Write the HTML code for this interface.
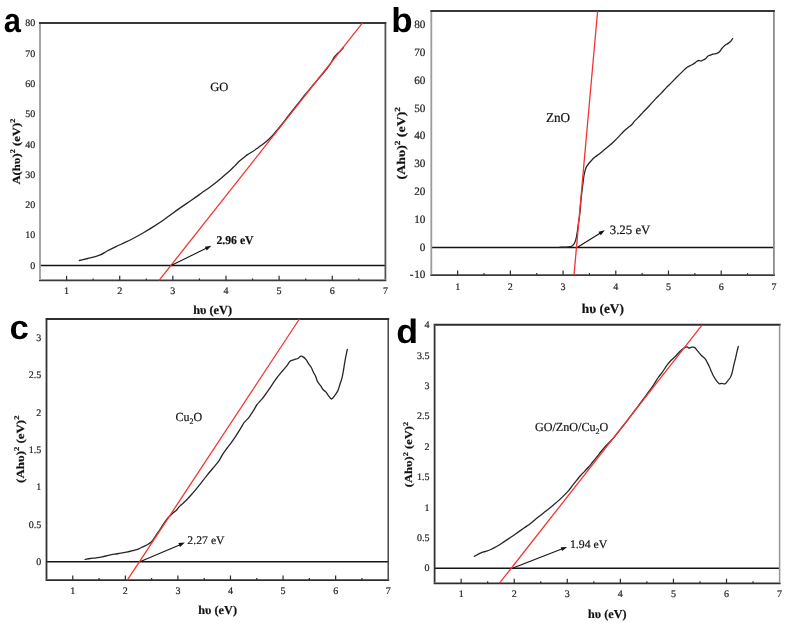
<!DOCTYPE html>
<html><head><meta charset="utf-8"><title>Tauc plots</title><style>
html,body{margin:0;padding:0;background:#fff;}
body{width:790px;height:626px;overflow:hidden;}
svg{display:block;will-change:transform;}
text{font-family:"Liberation Serif",serif;text-rendering:geometricPrecision;stroke:#222;stroke-width:0.2px;paint-order:stroke;}
.pl{stroke:none;}
.pl{font-family:"Liberation Sans",sans-serif;font-weight:bold;}
</style></head><body>
<svg width="790" height="626" viewBox="0 0 790 626">
<rect width="790" height="626" fill="#fff"/>
<g id="pa">
<line x1="40" y1="265.46" x2="385.4" y2="265.46" stroke="#141414" stroke-width="1.55"/>
<line x1="66.57" y1="280.4" x2="66.57" y2="275.8" stroke="#2a2a2a" stroke-width="1.2"/>
<line x1="93.14" y1="280.4" x2="93.14" y2="278.4" stroke="#2a2a2a" stroke-width="1.2"/>
<line x1="119.71" y1="280.4" x2="119.71" y2="275.8" stroke="#2a2a2a" stroke-width="1.2"/>
<line x1="146.28" y1="280.4" x2="146.28" y2="278.4" stroke="#2a2a2a" stroke-width="1.2"/>
<line x1="172.85" y1="280.4" x2="172.85" y2="275.8" stroke="#2a2a2a" stroke-width="1.2"/>
<line x1="199.42" y1="280.4" x2="199.42" y2="278.4" stroke="#2a2a2a" stroke-width="1.2"/>
<line x1="225.98" y1="280.4" x2="225.98" y2="275.8" stroke="#2a2a2a" stroke-width="1.2"/>
<line x1="252.55" y1="280.4" x2="252.55" y2="278.4" stroke="#2a2a2a" stroke-width="1.2"/>
<line x1="279.12" y1="280.4" x2="279.12" y2="275.8" stroke="#2a2a2a" stroke-width="1.2"/>
<line x1="305.69" y1="280.4" x2="305.69" y2="278.4" stroke="#2a2a2a" stroke-width="1.2"/>
<line x1="332.26" y1="280.4" x2="332.26" y2="275.8" stroke="#2a2a2a" stroke-width="1.2"/>
<line x1="358.83" y1="280.4" x2="358.83" y2="278.4" stroke="#2a2a2a" stroke-width="1.2"/>
<line x1="39" y1="23" x2="386.4" y2="23" stroke="#383838" stroke-width="2"/>
<line x1="39" y1="280.4" x2="386.4" y2="280.4" stroke="#3a3a3a" stroke-width="1.8"/>
<line x1="40" y1="24" x2="40" y2="279.5" stroke="#9c9c9c" stroke-width="1.8"/>
<line x1="385.4" y1="24" x2="385.4" y2="279.5" stroke="#555555" stroke-width="1.8"/>
<text x="66.57" y="293.9" font-size="10" text-anchor="middle" fill="#222">1</text>
<text x="119.71" y="293.9" font-size="10" text-anchor="middle" fill="#222">2</text>
<text x="172.85" y="293.9" font-size="10" text-anchor="middle" fill="#222">3</text>
<text x="225.98" y="293.9" font-size="10" text-anchor="middle" fill="#222">4</text>
<text x="279.12" y="293.9" font-size="10" text-anchor="middle" fill="#222">5</text>
<text x="332.26" y="293.9" font-size="10" text-anchor="middle" fill="#222">6</text>
<text x="385.4" y="293.9" font-size="10" text-anchor="middle" fill="#222">7</text>
<text x="35.3" y="268.66" font-size="10" text-anchor="end" fill="#222">0</text>
<text x="35.3" y="238.38" font-size="10" text-anchor="end" fill="#222">10</text>
<text x="35.3" y="208.09" font-size="10" text-anchor="end" fill="#222">20</text>
<text x="35.3" y="177.81" font-size="10" text-anchor="end" fill="#222">30</text>
<text x="35.3" y="147.53" font-size="10" text-anchor="end" fill="#222">40</text>
<text x="35.3" y="117.25" font-size="10" text-anchor="end" fill="#222">50</text>
<text x="35.3" y="86.96" font-size="10" text-anchor="end" fill="#222">60</text>
<text x="35.3" y="56.68" font-size="10" text-anchor="end" fill="#222">70</text>
<text x="35.3" y="26.4" font-size="10" text-anchor="end" fill="#222">80</text>
<path d="M79.40,260.50 C82.17,259.83 85.00,259.16 87.70,258.50 C90.29,257.86 92.97,257.28 95.30,256.60 C97.32,256.01 99.07,255.55 100.90,254.70 C102.84,253.80 104.47,252.47 106.60,251.30 C109.22,249.86 112.42,248.28 115.50,246.80 C118.74,245.24 122.36,243.76 125.60,242.20 C128.68,240.72 131.55,239.27 134.50,237.70 C137.48,236.11 140.35,234.47 143.40,232.70 C146.67,230.79 150.15,228.70 153.50,226.60 C156.89,224.47 160.48,222.18 163.60,220.00 C166.40,218.05 168.66,216.20 171.40,214.20 C174.40,212.01 177.62,209.70 180.90,207.40 C184.37,204.97 188.22,202.43 191.70,200.00 C195.00,197.70 198.11,195.47 201.30,193.20 C204.48,190.94 207.66,188.76 210.80,186.40 C214.00,184.00 217.16,181.48 220.30,178.90 C223.49,176.28 227.15,173.25 229.80,170.80 C231.84,168.92 233.30,167.30 235.00,165.60 C236.63,163.97 238.16,162.26 239.80,160.80 C241.36,159.41 243.21,158.13 244.60,157.00 C245.69,156.12 246.38,155.40 247.50,154.60 C248.87,153.63 250.71,152.72 252.30,151.70 C253.92,150.66 255.52,149.52 257.10,148.40 C258.68,147.28 260.24,146.18 261.80,145.00 C263.40,143.79 265.02,142.54 266.60,141.20 C268.23,139.81 270.03,138.20 271.40,136.80 C272.52,135.65 273.13,134.87 274.30,133.50 C276.15,131.33 278.97,127.97 281.34,125.00 C283.88,121.82 286.44,118.33 289.04,115.00 C291.64,111.66 294.30,108.33 296.94,105.00 C299.57,101.67 302.15,98.32 304.83,95.00 C307.55,91.65 310.34,88.33 313.13,85.00 C315.94,81.66 319.09,78.05 321.63,75.00 C323.74,72.47 325.63,70.27 327.36,68.00 C328.92,65.95 330.38,63.94 331.60,62.00 C332.67,60.29 333.34,58.40 334.35,57.00 C335.20,55.81 336.15,54.98 337.12,54.00 C338.12,52.98 339.27,52.04 340.29,51.00 C341.30,49.97 342.24,48.87 343.21,47.80" fill="none" stroke="#262626" stroke-width="1.3" stroke-linejoin="round" stroke-linecap="round"/>
<line x1="159.1" y1="280.4" x2="362.5" y2="22.9" stroke="#f43434" stroke-width="1.3"/>
<line x1="171.6" y1="265.2" x2="206.73" y2="248.08" stroke="#151515" stroke-width="1.1"/>
<polygon points="211.4,245.8 206.75,250.4 204.91,246.63" fill="#111"/>
</g>
<g id="pb">
<line x1="431.3" y1="247.51" x2="773.9" y2="247.51" stroke="#141414" stroke-width="1.55"/>
<line x1="457.65" y1="275.1" x2="457.65" y2="270.5" stroke="#2a2a2a" stroke-width="1.2"/>
<line x1="484.01" y1="275.1" x2="484.01" y2="273.1" stroke="#2a2a2a" stroke-width="1.2"/>
<line x1="510.36" y1="275.1" x2="510.36" y2="270.5" stroke="#2a2a2a" stroke-width="1.2"/>
<line x1="536.72" y1="275.1" x2="536.72" y2="273.1" stroke="#2a2a2a" stroke-width="1.2"/>
<line x1="563.07" y1="275.1" x2="563.07" y2="270.5" stroke="#2a2a2a" stroke-width="1.2"/>
<line x1="589.42" y1="275.1" x2="589.42" y2="273.1" stroke="#2a2a2a" stroke-width="1.2"/>
<line x1="615.78" y1="275.1" x2="615.78" y2="270.5" stroke="#2a2a2a" stroke-width="1.2"/>
<line x1="642.13" y1="275.1" x2="642.13" y2="273.1" stroke="#2a2a2a" stroke-width="1.2"/>
<line x1="668.48" y1="275.1" x2="668.48" y2="270.5" stroke="#2a2a2a" stroke-width="1.2"/>
<line x1="694.84" y1="275.1" x2="694.84" y2="273.1" stroke="#2a2a2a" stroke-width="1.2"/>
<line x1="721.19" y1="275.1" x2="721.19" y2="270.5" stroke="#2a2a2a" stroke-width="1.2"/>
<line x1="747.55" y1="275.1" x2="747.55" y2="273.1" stroke="#2a2a2a" stroke-width="1.2"/>
<line x1="430.3" y1="11.1" x2="774.9" y2="11.1" stroke="#383838" stroke-width="2"/>
<line x1="430.3" y1="275.1" x2="774.9" y2="275.1" stroke="#3a3a3a" stroke-width="1.8"/>
<line x1="431.3" y1="12.1" x2="431.3" y2="274.2" stroke="#9c9c9c" stroke-width="1.8"/>
<line x1="773.9" y1="12.1" x2="773.9" y2="274.2" stroke="#8c8c8c" stroke-width="1.8"/>
<text x="457.65" y="289.9" font-size="10" text-anchor="middle" fill="#222">1</text>
<text x="510.36" y="289.9" font-size="10" text-anchor="middle" fill="#222">2</text>
<text x="563.07" y="289.9" font-size="10" text-anchor="middle" fill="#222">3</text>
<text x="615.78" y="289.9" font-size="10" text-anchor="middle" fill="#222">4</text>
<text x="668.48" y="289.9" font-size="10" text-anchor="middle" fill="#222">5</text>
<text x="721.19" y="289.9" font-size="10" text-anchor="middle" fill="#222">6</text>
<text x="773.9" y="289.9" font-size="10" text-anchor="middle" fill="#222">7</text>
<text x="425.4" y="278.4" font-size="11.2" text-anchor="end" fill="#222">-<tspan dx='0.7'>10</tspan></text>
<text x="425.4" y="250.61" font-size="11.2" text-anchor="end" fill="#222">0</text>
<text x="425.4" y="222.82" font-size="11.2" text-anchor="end" fill="#222">10</text>
<text x="425.4" y="195.03" font-size="11.2" text-anchor="end" fill="#222">20</text>
<text x="425.4" y="167.24" font-size="11.2" text-anchor="end" fill="#222">30</text>
<text x="425.4" y="139.45" font-size="11.2" text-anchor="end" fill="#222">40</text>
<text x="425.4" y="111.66" font-size="11.2" text-anchor="end" fill="#222">50</text>
<text x="425.4" y="83.87" font-size="11.2" text-anchor="end" fill="#222">60</text>
<text x="425.4" y="56.08" font-size="11.2" text-anchor="end" fill="#222">70</text>
<text x="425.4" y="28.29" font-size="11.2" text-anchor="end" fill="#222">80</text>
<path d="M560.00,247.20 C562.00,247.17 564.20,247.20 566.00,247.10 C567.47,247.01 568.97,246.91 570.00,246.70 C570.66,246.56 571.07,246.49 571.60,246.20 C572.24,245.85 572.98,245.20 573.50,244.60 C574.00,244.03 574.33,243.47 574.70,242.70 C575.19,241.67 575.68,240.11 576.00,238.90 C576.29,237.82 576.38,236.99 576.60,235.80 C576.90,234.19 577.33,231.95 577.60,230.10 C577.86,228.36 577.94,226.98 578.20,225.00 C578.57,222.22 579.24,218.68 579.67,215.00 C580.21,210.51 580.57,204.49 581.02,200.00 C581.38,196.33 581.74,193.15 582.11,190.00 C582.44,187.18 582.80,184.53 583.13,182.00 C583.42,179.72 583.57,177.74 584.00,175.50 C584.47,173.05 585.01,169.96 585.90,167.90 C586.58,166.32 587.46,165.26 588.40,164.00 C589.38,162.69 590.57,161.38 591.70,160.20 C592.77,159.08 593.77,158.14 595.00,157.10 C596.42,155.91 598.22,154.75 599.80,153.50 C601.42,152.22 603.00,150.83 604.60,149.50 C606.20,148.17 607.81,146.87 609.40,145.50 C611.01,144.11 612.62,142.70 614.20,141.20 C615.82,139.67 617.42,138.05 619.00,136.40 C620.62,134.72 622.16,132.78 623.80,131.20 C625.33,129.73 627.07,128.35 628.50,127.20 C629.65,126.28 630.77,125.73 631.70,124.80 C632.63,123.87 633.15,122.69 634.10,121.60 C635.23,120.30 636.72,119.04 638.10,117.60 C639.64,115.99 641.62,113.74 642.90,112.40 C643.73,111.53 644.15,111.18 645.00,110.30 C646.38,108.87 648.55,106.50 650.30,104.60 C652.05,102.70 653.74,100.75 655.50,98.90 C657.24,97.08 659.05,95.42 660.80,93.60 C662.58,91.75 664.32,89.75 666.10,87.90 C667.85,86.08 669.65,84.37 671.40,82.60 C673.15,80.84 674.85,79.05 676.60,77.30 C678.35,75.55 680.12,73.79 681.90,72.10 C683.65,70.43 685.43,68.43 687.20,67.20 C688.66,66.19 690.24,65.76 691.60,65.00 C692.82,64.32 694.05,63.59 695.00,62.90 C695.75,62.36 696.23,61.71 696.90,61.30 C697.51,60.93 698.13,60.56 698.80,60.50 C699.52,60.43 700.36,61.09 701.10,61.00 C701.86,60.90 702.57,60.27 703.30,59.90 C704.03,59.53 704.81,59.33 705.50,58.80 C706.32,58.17 706.94,56.81 707.80,56.20 C708.56,55.67 709.46,55.53 710.30,55.20 C711.16,54.86 711.98,54.46 712.90,54.20 C713.90,53.92 715.06,53.95 716.10,53.60 C717.19,53.23 718.38,52.79 719.30,52.00 C720.31,51.14 720.86,49.60 721.80,48.50 C722.76,47.37 723.88,46.17 725.00,45.30 C726.02,44.51 727.22,44.10 728.20,43.40 C729.14,42.73 730.04,42.01 730.80,41.20 C731.54,40.41 732.07,39.47 732.70,38.60" fill="none" stroke="#262626" stroke-width="1.3" stroke-linejoin="round" stroke-linecap="round"/>
<line x1="574" y1="275.1" x2="597.6" y2="11.2" stroke="#f43434" stroke-width="1.3"/>
<line x1="577.9" y1="247" x2="600.48" y2="233.04" stroke="#151515" stroke-width="1.1"/>
<polygon points="604.9,230.3 600.73,235.35 598.52,231.78" fill="#111"/>
</g>
<g id="pc">
<line x1="46.5" y1="561.65" x2="388.2" y2="561.65" stroke="#141414" stroke-width="1.55"/>
<line x1="72.78" y1="580.1" x2="72.78" y2="575.5" stroke="#2a2a2a" stroke-width="1.2"/>
<line x1="99.07" y1="580.1" x2="99.07" y2="578.1" stroke="#2a2a2a" stroke-width="1.2"/>
<line x1="125.35" y1="580.1" x2="125.35" y2="575.5" stroke="#2a2a2a" stroke-width="1.2"/>
<line x1="151.64" y1="580.1" x2="151.64" y2="578.1" stroke="#2a2a2a" stroke-width="1.2"/>
<line x1="177.92" y1="580.1" x2="177.92" y2="575.5" stroke="#2a2a2a" stroke-width="1.2"/>
<line x1="204.21" y1="580.1" x2="204.21" y2="578.1" stroke="#2a2a2a" stroke-width="1.2"/>
<line x1="230.49" y1="580.1" x2="230.49" y2="575.5" stroke="#2a2a2a" stroke-width="1.2"/>
<line x1="256.78" y1="580.1" x2="256.78" y2="578.1" stroke="#2a2a2a" stroke-width="1.2"/>
<line x1="283.06" y1="580.1" x2="283.06" y2="575.5" stroke="#2a2a2a" stroke-width="1.2"/>
<line x1="309.35" y1="580.1" x2="309.35" y2="578.1" stroke="#2a2a2a" stroke-width="1.2"/>
<line x1="335.63" y1="580.1" x2="335.63" y2="575.5" stroke="#2a2a2a" stroke-width="1.2"/>
<line x1="361.92" y1="580.1" x2="361.92" y2="578.1" stroke="#2a2a2a" stroke-width="1.2"/>
<line x1="45.5" y1="318.95" x2="389.2" y2="318.95" stroke="#2e2e2e" stroke-width="2"/>
<line x1="45.5" y1="580.1" x2="389.2" y2="580.1" stroke="#2e2e2e" stroke-width="1.8"/>
<line x1="46.5" y1="319.95" x2="46.5" y2="579.2" stroke="#333333" stroke-width="1.8"/>
<line x1="388.2" y1="319.95" x2="388.2" y2="579.2" stroke="#3a3a3a" stroke-width="1.4"/>
<text x="72.78" y="593.8" font-size="10" text-anchor="middle" fill="#222">1</text>
<text x="125.35" y="593.8" font-size="10" text-anchor="middle" fill="#222">2</text>
<text x="177.92" y="593.8" font-size="10" text-anchor="middle" fill="#222">3</text>
<text x="230.49" y="593.8" font-size="10" text-anchor="middle" fill="#222">4</text>
<text x="283.06" y="593.8" font-size="10" text-anchor="middle" fill="#222">5</text>
<text x="335.63" y="593.8" font-size="10" text-anchor="middle" fill="#222">6</text>
<text x="388.2" y="593.8" font-size="10" text-anchor="middle" fill="#222">7</text>
<text x="41.2" y="564.85" font-size="10" text-anchor="end" fill="#222">0</text>
<text x="41.2" y="527.54" font-size="10" text-anchor="end" fill="#222">0.5</text>
<text x="41.2" y="490.23" font-size="10" text-anchor="end" fill="#222">1</text>
<text x="41.2" y="452.92" font-size="10" text-anchor="end" fill="#222">1.5</text>
<text x="41.2" y="415.62" font-size="10" text-anchor="end" fill="#222">2</text>
<text x="41.2" y="378.31" font-size="10" text-anchor="end" fill="#222">2.5</text>
<text x="41.2" y="341" font-size="10" text-anchor="end" fill="#222">3</text>
<path d="M85.10,559.30 C86.77,559.03 88.35,558.74 90.10,558.50 C92.03,558.24 94.17,558.08 96.20,557.80 C98.24,557.52 100.27,557.20 102.30,556.80 C104.34,556.40 106.37,555.84 108.40,555.40 C110.41,554.97 112.39,554.57 114.40,554.20 C116.42,553.83 118.47,553.53 120.50,553.20 C122.53,552.87 124.57,552.61 126.60,552.20 C128.64,551.78 130.68,551.25 132.70,550.70 C134.72,550.15 136.81,549.66 138.70,548.90 C140.50,548.18 142.21,547.07 143.80,546.30 C145.18,545.63 146.49,545.19 147.70,544.50 C148.85,543.85 149.95,543.15 150.90,542.30 C151.85,541.45 152.56,540.54 153.40,539.40 C154.45,537.97 155.51,535.93 156.60,534.30 C157.64,532.74 158.76,531.36 159.80,529.80 C160.89,528.17 161.97,526.27 163.00,524.70 C163.90,523.33 164.66,522.15 165.60,520.90 C166.59,519.59 167.65,518.26 168.80,517.00 C169.98,515.70 171.29,514.34 172.60,513.20 C173.83,512.12 175.26,511.42 176.40,510.30 C177.56,509.16 178.19,507.79 179.50,506.40 C181.27,504.52 184.10,502.50 186.30,500.30 C188.61,497.99 190.78,495.38 193.00,492.80 C195.28,490.15 197.56,487.40 199.80,484.60 C202.09,481.74 204.30,478.65 206.60,475.80 C208.84,473.02 211.26,470.29 213.40,467.70 C215.34,465.34 217.30,463.23 218.90,460.90 C220.41,458.69 221.44,456.22 222.80,454.10 C224.08,452.11 225.45,450.32 226.80,448.50 C228.12,446.72 229.48,445.08 230.80,443.30 C232.15,441.48 233.57,439.54 234.80,437.70 C235.95,435.98 236.94,434.31 238.00,432.60 C239.07,430.88 240.13,429.13 241.20,427.40 C242.27,425.67 243.17,423.76 244.40,422.20 C245.58,420.70 247.20,419.66 248.40,418.20 C249.61,416.73 250.55,415.00 251.60,413.40 C252.65,411.80 253.80,410.10 254.70,408.60 C255.46,407.33 255.77,406.31 256.70,405.00 C258.03,403.13 260.41,401.06 262.30,398.70 C264.50,395.95 266.79,392.58 269.00,389.40 C271.26,386.15 273.40,382.54 275.70,379.40 C277.87,376.43 280.31,373.54 282.40,371.00 C284.17,368.85 286.04,366.88 287.40,365.10 C288.45,363.72 288.86,362.20 290.00,361.30 C291.13,360.41 292.81,360.22 294.20,359.70 C295.57,359.19 297.13,358.86 298.30,358.20 C299.32,357.62 299.99,356.24 300.90,356.10 C301.73,355.97 302.69,356.57 303.50,357.10 C304.44,357.71 305.29,358.68 306.10,359.70 C307.04,360.89 307.81,362.57 308.70,363.90 C309.54,365.16 310.54,366.18 311.30,367.50 C312.12,368.92 312.68,370.75 313.40,372.20 C314.05,373.50 314.77,374.44 315.40,375.80 C316.16,377.46 316.58,379.80 317.50,381.50 C318.35,383.07 319.64,384.29 320.60,385.70 C321.53,387.06 322.24,388.72 323.20,389.80 C324.00,390.70 324.99,391.03 325.80,391.90 C326.74,392.91 327.45,394.42 328.40,395.60 C329.35,396.79 330.45,398.99 331.50,399.00 C332.55,399.01 333.69,396.87 334.70,395.60 C335.81,394.20 336.97,392.64 337.80,390.90 C338.70,389.03 339.12,386.77 339.80,384.70 C340.49,382.61 341.31,380.67 341.90,378.40 C342.57,375.84 343.00,372.95 343.50,370.10 C344.03,367.09 344.41,364.06 345.00,360.80 C345.66,357.16 346.53,353.13 347.30,349.30" fill="none" stroke="#262626" stroke-width="1.3" stroke-linejoin="round" stroke-linecap="round"/>
<line x1="127.3" y1="580.1" x2="299.4" y2="319" stroke="#f43434" stroke-width="1.3"/>
<line x1="140.5" y1="561.6" x2="180.12" y2="544.65" stroke="#151515" stroke-width="1.1"/>
<polygon points="184.9,542.6 180.03,546.97 178.37,543.11" fill="#111"/>
</g>
<g id="pd">
<line x1="434.6" y1="568.29" x2="779.6" y2="568.29" stroke="#141414" stroke-width="1.55"/>
<line x1="461.14" y1="583.3" x2="461.14" y2="578.7" stroke="#2a2a2a" stroke-width="1.2"/>
<line x1="487.68" y1="583.3" x2="487.68" y2="581.3" stroke="#2a2a2a" stroke-width="1.2"/>
<line x1="514.22" y1="583.3" x2="514.22" y2="578.7" stroke="#2a2a2a" stroke-width="1.2"/>
<line x1="540.75" y1="583.3" x2="540.75" y2="581.3" stroke="#2a2a2a" stroke-width="1.2"/>
<line x1="567.29" y1="583.3" x2="567.29" y2="578.7" stroke="#2a2a2a" stroke-width="1.2"/>
<line x1="593.83" y1="583.3" x2="593.83" y2="581.3" stroke="#2a2a2a" stroke-width="1.2"/>
<line x1="620.37" y1="583.3" x2="620.37" y2="578.7" stroke="#2a2a2a" stroke-width="1.2"/>
<line x1="646.91" y1="583.3" x2="646.91" y2="581.3" stroke="#2a2a2a" stroke-width="1.2"/>
<line x1="673.45" y1="583.3" x2="673.45" y2="578.7" stroke="#2a2a2a" stroke-width="1.2"/>
<line x1="699.98" y1="583.3" x2="699.98" y2="581.3" stroke="#2a2a2a" stroke-width="1.2"/>
<line x1="726.52" y1="583.3" x2="726.52" y2="578.7" stroke="#2a2a2a" stroke-width="1.2"/>
<line x1="753.06" y1="583.3" x2="753.06" y2="581.3" stroke="#2a2a2a" stroke-width="1.2"/>
<line x1="433.6" y1="324.75" x2="780.6" y2="324.75" stroke="#2e2e2e" stroke-width="2"/>
<line x1="433.6" y1="583.3" x2="780.6" y2="583.3" stroke="#2e2e2e" stroke-width="1.8"/>
<line x1="434.6" y1="325.75" x2="434.6" y2="582.4" stroke="#333333" stroke-width="1.8"/>
<line x1="779.6" y1="325.75" x2="779.6" y2="582.4" stroke="#969696" stroke-width="1.5"/>
<text x="461.14" y="597" font-size="10" text-anchor="middle" fill="#222">1</text>
<text x="514.22" y="597" font-size="10" text-anchor="middle" fill="#222">2</text>
<text x="567.29" y="597" font-size="10" text-anchor="middle" fill="#222">3</text>
<text x="620.37" y="597" font-size="10" text-anchor="middle" fill="#222">4</text>
<text x="673.45" y="597" font-size="10" text-anchor="middle" fill="#222">5</text>
<text x="726.52" y="597" font-size="10" text-anchor="middle" fill="#222">6</text>
<text x="779.6" y="597" font-size="10" text-anchor="middle" fill="#222">7</text>
<text x="429.5" y="571.49" font-size="10" text-anchor="end" fill="#222">0</text>
<text x="429.5" y="541.07" font-size="10" text-anchor="end" fill="#222">0.5</text>
<text x="429.5" y="510.66" font-size="10" text-anchor="end" fill="#222">1</text>
<text x="429.5" y="480.24" font-size="10" text-anchor="end" fill="#222">1.5</text>
<text x="429.5" y="449.82" font-size="10" text-anchor="end" fill="#222">2</text>
<text x="429.5" y="419.4" font-size="10" text-anchor="end" fill="#222">2.5</text>
<text x="429.5" y="388.99" font-size="10" text-anchor="end" fill="#222">3</text>
<text x="429.5" y="358.57" font-size="10" text-anchor="end" fill="#222">3.5</text>
<text x="429.5" y="328.15" font-size="10" text-anchor="end" fill="#222">4</text>
<path d="M474.20,556.30 C475.90,555.43 477.67,554.48 479.30,553.70 C480.76,553.00 482.18,552.22 483.50,551.80 C484.59,551.45 485.51,551.52 486.60,551.20 C487.91,550.81 489.28,550.20 490.80,549.50 C492.68,548.63 494.88,547.53 497.00,546.30 C499.37,544.93 501.88,543.18 504.30,541.60 C506.71,540.02 509.19,538.38 511.50,536.80 C513.68,535.31 515.71,533.87 517.80,532.40 C519.88,530.94 521.93,529.45 524.00,528.00 C526.06,526.55 528.05,525.32 530.20,523.70 C532.69,521.82 535.37,519.41 538.00,517.30 C540.64,515.18 543.34,513.11 546.00,511.00 C548.67,508.88 551.37,506.84 554.00,504.60 C556.70,502.31 559.48,499.83 562.00,497.40 C564.40,495.09 566.89,492.63 568.80,490.40 C570.38,488.56 571.45,486.83 572.80,485.10 C574.12,483.40 575.46,481.74 576.80,480.10 C578.13,478.48 579.44,476.83 580.80,475.30 C582.11,473.83 583.47,472.51 584.80,471.10 C586.14,469.68 587.50,468.30 588.80,466.80 C590.13,465.27 591.39,463.60 592.70,462.00 C594.02,460.40 595.38,458.85 596.70,457.20 C598.05,455.51 599.35,453.69 600.70,452.00 C602.02,450.35 603.35,448.74 604.70,447.20 C606.01,445.71 607.30,444.36 608.70,442.90 C610.19,441.33 611.59,440.15 613.40,438.10 C616.26,434.86 620.29,429.54 623.81,425.00 C627.54,420.19 631.78,414.50 635.18,410.00 C637.95,406.33 640.39,403.16 642.72,400.00 C644.79,397.20 646.62,394.62 648.50,392.00 C650.31,389.49 652.15,387.07 653.80,384.60 C655.38,382.24 656.67,379.70 658.20,377.50 C659.62,375.46 661.17,373.80 662.60,371.80 C664.10,369.71 665.47,367.23 667.00,365.20 C668.41,363.32 669.88,361.57 671.40,360.00 C672.82,358.53 674.38,357.43 675.80,356.00 C677.28,354.51 678.60,352.62 680.10,351.20 C681.50,349.88 683.15,348.43 684.50,347.70 C685.46,347.18 686.43,346.67 687.20,346.80 C687.87,346.91 688.23,347.99 688.90,348.10 C689.67,348.23 690.68,347.33 691.60,347.20 C692.51,347.07 693.61,346.92 694.40,347.30 C695.22,347.69 695.70,348.79 696.40,349.60 C697.17,350.49 698.00,351.47 698.80,352.40 C699.60,353.33 700.26,354.24 701.20,355.20 C702.33,356.36 704.17,357.51 705.20,358.80 C706.10,359.93 706.52,361.11 707.20,362.40 C707.98,363.88 708.86,365.59 709.60,367.20 C710.33,368.79 710.92,370.45 711.60,372.00 C712.25,373.48 712.82,374.88 713.60,376.30 C714.41,377.79 715.36,379.40 716.40,380.70 C717.37,381.91 718.65,383.67 719.60,383.90 C720.18,384.04 720.54,383.47 721.20,383.40 C722.21,383.30 724.04,384.21 725.10,383.80 C726.12,383.40 726.69,382.08 727.50,381.10 C728.42,380.00 729.56,378.79 730.30,377.50 C731.02,376.25 731.42,375.05 731.90,373.50 C732.52,371.49 732.92,368.83 733.50,366.40 C734.12,363.81 734.89,361.00 735.50,358.40 C736.08,355.94 736.59,353.35 737.10,351.20 C737.52,349.44 737.90,348.00 738.30,346.40" fill="none" stroke="#262626" stroke-width="1.3" stroke-linejoin="round" stroke-linecap="round"/>
<line x1="499.5" y1="583.2" x2="702.2" y2="324.8" stroke="#f43434" stroke-width="1.3"/>
<line x1="513" y1="568" x2="562.35" y2="548.79" stroke="#151515" stroke-width="1.1"/>
<polygon points="567.2,546.9 562.18,551.11 560.66,547.19" fill="#111"/>
</g>
<g id="texts">
<g transform="translate(0,0.4) translate(3.69,31.32) scale(0.8571,0.9385)"><text class="pl" font-size="36" fill="#000">a</text></g>
<g transform="translate(0,0.7) translate(391.22,31.31) scale(0.9722,0.9573)"><text class="pl" font-size="36" fill="#000">b</text></g>
<g transform="translate(9.6,338.91) scale(0.9657,0.9487)"><text class="pl" font-size="36" fill="#000">c</text></g>
<g transform="translate(396.16,342.91) scale(0.9944,0.9448)"><text class="pl" font-size="36" fill="#000">d</text></g>
<g transform="translate(210.23,91.35) scale(1.0462,1.0500)"><text font-size="12" fill="#111">GO</text></g>
<g transform="translate(545.9,121.65) scale(1.1000,1.1250)"><text font-size="12" fill="#111">ZnO</text></g>
<g transform="translate(175.45,420.71) scale(1.0019,1.0326)"><text font-size="12" fill="#111">Cu<tspan font-size="8" dy="2.8">2</tspan><tspan dy="-2.8">O</tspan></text></g>
<g transform="translate(534.94,431.24) scale(1.0105,1.0233)"><text font-size="12" fill="#111">GO/ZnO/Cu<tspan font-size="8" dy="2.8">2</tspan><tspan dy="-2.8">O</tspan></text></g>
<g transform="translate(216.46,244.3) scale(0.9772,0.9939)"><text font-size="12" font-weight="bold" fill="#111">2.96 eV</text></g>
<g transform="translate(609.71,233.78) scale(1.0711,1.0667)"><text font-size="12" fill="#111">3.25 eV</text></g>
<g transform="translate(187.36,544.21) scale(0.9799,0.9697)"><text font-size="12" fill="#111">2.27 eV</text></g>
<g transform="translate(569.96,548.41) scale(0.9850,0.9697)"><text font-size="12" fill="#111">1.94 eV</text></g>
<g transform="translate(193.19,314.4) scale(1.0243,1.0243)"><text font-size="12" font-weight="bold" fill="#111">h&#x3c5; (eV)</text></g>
<g transform="translate(581.77,312.5) scale(1.1135,1.1135)"><text font-size="12" font-weight="bold" fill="#111">h&#x3c5; (eV)</text></g>
<g transform="translate(198.29,614) scale(1.0216,1.0216)"><text font-size="12" font-weight="bold" fill="#111">h&#x3c5; (eV)</text></g>
<g transform="translate(588.1,617.6) scale(1.0135,1.0135)"><text font-size="12" font-weight="bold" fill="#111">h&#x3c5; (eV)</text></g>
<g transform="translate(1.4,0) translate(18.18,184.51) rotate(-90) scale(1.0532,0.9061)"><text font-size="12" font-weight="bold" fill="#111">A(h&#x3c5;)<tspan font-size="8" dy="-5.2">2</tspan><tspan dy="5.2"> (eV)</tspan><tspan font-size="8" dy="-5.2">2</tspan></text></g>
<g transform="translate(1.0,0) translate(403.81,179.43) rotate(-90) scale(1.1563,0.9828)"><text font-size="12" font-weight="bold" fill="#111">(Ah&#x3c5;)<tspan font-size="8" dy="-5.2">2</tspan><tspan dy="5.2"> (eV)</tspan><tspan font-size="8" dy="-5.2">2</tspan></text></g>
<g transform="translate(1.2,-1.0) translate(23.02,483.89) rotate(-90) scale(1.0769,0.9154)"><text font-size="12" font-weight="bold" fill="#111">(Ah&#x3c5;)<tspan font-size="8" dy="-5.2">2</tspan><tspan dy="5.2"> (eV)</tspan><tspan font-size="8" dy="-5.2">2</tspan></text></g>
<g transform="translate(1.0,1.0) translate(411.17,486.27) rotate(-90) scale(1.0462,0.8892)"><text font-size="12" font-weight="bold" fill="#111">(Ah&#x3c5;)<tspan font-size="8" dy="-5.2">2</tspan><tspan dy="5.2"> (eV)</tspan><tspan font-size="8" dy="-5.2">2</tspan></text></g>
</g>
</svg>
</body></html>
